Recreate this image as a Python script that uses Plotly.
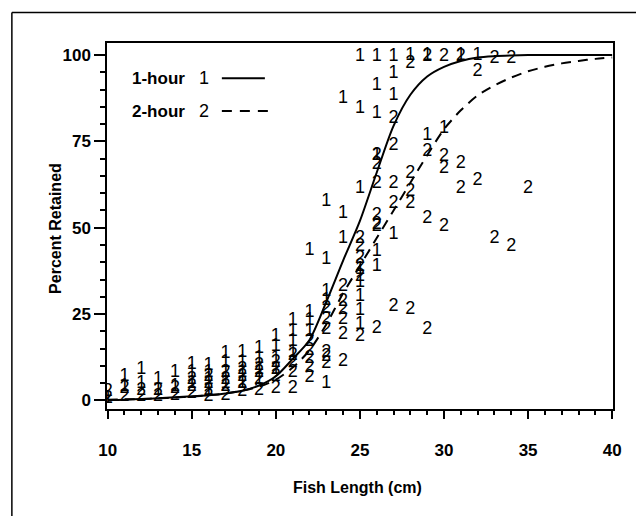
import plotly.graph_objects as go

# ---------------- data ----------------
# observed percent retained, 1-hour soak (plotted as "1")
len_1hr = [10, 11, 11, 12, 12, 13, 13, 14, 14,
           15, 15, 15, 16, 16, 16, 16, 17, 17, 17, 17,
           18, 18, 18, 18, 19, 19, 19, 19, 20, 20, 20, 20,
           21, 21, 21, 21, 22, 22, 22, 22,
           23, 23, 23, 23, 23, 24, 24, 24,
           25, 25, 25, 25, 25, 25, 25, 25,
           26, 26, 26, 26, 26, 26, 27, 27, 27, 27,
           28, 29, 29, 30, 31, 32]
pct_1hr = [0.5, 7, 4, 9, 5, 6, 3, 8, 4,
           10.5, 8, 5, 10, 8, 6, 3, 13.5, 11, 8, 5,
           14, 11, 8, 5, 15, 12, 9, 6, 18.5, 15.5, 12, 9,
           23, 20, 17, 14, 25.5, 23, 20, 43.5,
           31.5, 29, 57.5, 40.7, 5, 47, 54.2, 87.5,
           99.5, 84.6, 61.4, 38, 34, 30, 26, 22,
           99.5, 91.3, 83.1, 71, 43, 38.7, 99.5, 94.7, 88.4, 47.9,
           100, 100, 76.8, 78.8, 100, 100]

# observed percent retained, 2-hour soak (plotted as "2")
len_2hr = [10, 10, 11, 11, 12, 12, 13, 13, 14, 14,
           15, 15, 15, 16, 16, 16, 16, 17, 17, 17, 17,
           18, 18, 18, 18, 19, 19, 19, 19, 20, 20, 20, 20,
           21, 21, 21, 21, 22, 22, 22, 22, 22,
           23, 23, 23, 23, 23, 23, 24, 24, 24, 24, 24, 24,
           25, 25, 25, 25, 25, 25,
           26, 26, 26, 26, 26, 26, 26,
           27, 27, 27, 27, 27, 28, 28, 28, 28, 28,
           29, 29, 29, 29, 30, 30, 30, 30, 31, 31, 31,
           32, 32, 33, 33, 34, 34, 35]
pct_2hr = [2.5, 0.5, 3.5, 1, 3, 1, 3, 1, 3.5, 1.5,
           6, 4, 2, 7, 5, 3, 1, 8, 6, 4, 1.5,
           9, 7, 5, 2.5, 10, 8, 6, 3, 11, 9, 7, 3.5,
           13, 11, 8, 3.5, 17, 14.5, 12, 9.5, 6.5,
           26.5, 23.5, 20.5, 14, 12.7, 10.6, 33, 28.6, 26.4, 23.5, 19, 11.2,
           47, 44.5, 41.2, 38.7, 36, 18.5,
           62.9, 68.2, 71, 53.5, 50.3, 51, 20.9,
           81.7, 73.9, 62.9, 57, 27.1, 97.6, 65.8, 60.4, 57, 26.2,
           99.5, 72, 52.7, 20.4, 99.5, 70.6, 67.2, 50.3, 99.5, 68.6, 61.4,
           95.2, 63.8, 99, 47, 99, 44.5, 61.4]

# fitted retention curves
curve_len = [10, 11, 12, 13, 14, 15, 16, 17, 18, 19, 20, 21, 22, 23, 24, 25,
             26, 27, 28, 29, 30, 31, 32, 33, 34, 35, 36, 37, 38, 39, 40]
fit_1hr = [0.1, 0.2, 0.4, 0.6, 0.9, 1.2, 1.5, 2.0, 2.8, 4.3, 7.0, 12.0, 17.5, 28.5, 40.5, 52,
           66, 79.5, 88.5, 93.8, 96.6, 98.3, 99.3, 99.7, 99.9, 100, 100, 100, 100, 100, 100]
fit_2hr = [0.2, 0.3, 0.4, 0.6, 0.8, 1.1, 1.5, 2.0, 2.8, 4.0, 6.0, 9.5, 14.5, 22, 31, 39,
           47, 55, 63, 71, 78.5, 84, 88.3, 91.2, 93.5, 95.3, 96.6, 97.6, 98.3, 98.9, 99.3]

x_ticks = [10, 15, 20, 25, 30, 35, 40]
y_ticks = [0, 25, 50, 75, 100]
legend_labels = ["1-hour", "2-hour"]
legend_codes = ["1", "2"]

FONT = "Liberation Sans, Arial, sans-serif"

fig = go.Figure()

fig.add_trace(go.Scatter(x=curve_len, y=fit_1hr, mode="lines",
                         line=dict(color="black", width=2, shape="spline", smoothing=0.8),
                         hoverinfo="skip"))
fig.add_trace(go.Scatter(x=curve_len, y=fit_2hr, mode="lines",
                         line=dict(color="black", width=2, dash="10px,7px",
                                   shape="spline", smoothing=0.8),
                         hoverinfo="skip"))

fig.add_trace(go.Scatter(x=len_1hr, y=pct_1hr, mode="text",
                         text=[legend_codes[0]] * len(len_1hr),
                         textposition="middle center",
                         textfont=dict(family=FONT, size=18, color="black")))
fig.add_trace(go.Scatter(x=len_2hr, y=pct_2hr, mode="text",
                         text=[legend_codes[1]] * len(len_2hr),
                         textposition="middle center",
                         textfont=dict(family=FONT, size=18, color="black")))

# ---- in-plot legend (text + line samples) ----
rows_y = [0.904, 0.814]
for i, yy in enumerate(rows_y):
    fig.add_annotation(xref="paper", yref="paper", x=0.045, y=yy, text=legend_labels[i],
                       showarrow=False, xanchor="left", yanchor="middle",
                       font=dict(family=FONT, size=17, color="black", weight="bold"))
    fig.add_annotation(xref="paper", yref="paper", x=0.191, y=yy, text=legend_codes[i],
                       showarrow=False, xanchor="center", yanchor="middle",
                       font=dict(family=FONT, size=18, color="black"))
fig.add_shape(type="line", xref="paper", yref="paper", x0=0.227, x1=0.312,
              y0=rows_y[0], y1=rows_y[0], line=dict(color="black", width=2))
fig.add_shape(type="line", xref="paper", yref="paper", x0=0.227, x1=0.327,
              y0=rows_y[1], y1=rows_y[1], line=dict(color="black", width=2, dash="10px,8px"))

# ---- axis titles ----
fig.add_annotation(xref="paper", yref="paper", x=0.496, y=-0.215, text="Fish Length (cm)",
                   showarrow=False, xanchor="center", yanchor="middle",
                   font=dict(family=FONT, size=16, color="black", weight="bold"))
fig.add_annotation(xref="paper", yref="paper", x=-0.103, y=0.4945, text="Percent Retained",
                   showarrow=False, xanchor="center", yanchor="middle", textangle=-90,
                   font=dict(family=FONT, size=16, color="black", weight="bold"))

# ---- outer (scanned) frame: left and top edges ----
fig.add_shape(type="line", xref="paper", yref="paper", x0=-0.188, x1=-0.188,
              y0=1.083, y1=-0.32, line=dict(color="black", width=1.5))
fig.add_shape(type="line", xref="paper", yref="paper", x0=-0.188, x1=1.07,
              y0=1.083, y1=1.083, line=dict(color="black", width=1.5))

fig.update_layout(
    width=644, height=516,
    margin=dict(l=99, r=39, t=35, b=115),
    paper_bgcolor="white", plot_bgcolor="white",
    showlegend=False,
    xaxis=dict(range=[9.96, 40.05], tickvals=x_ticks, ticks="outside", ticklen=8,
               tickwidth=1.5, tickcolor="black", showline=True, linecolor="black",
               linewidth=1.5, mirror=True, showgrid=False, zeroline=False,
               ticklabelstandoff=17,
               tickfont=dict(family=FONT, size=17, color="black", weight="bold"),
               minor=dict(tick0=10, dtick=1, ticks="outside", ticklen=4, tickwidth=1.5,
                          tickcolor="black", showgrid=False)),
    yaxis=dict(range=[-2.5, 103.5], tickvals=y_ticks, ticks="outside", ticklen=11,
               tickwidth=1.5, tickcolor="black", showline=True, linecolor="black",
               linewidth=1.5, mirror=True, showgrid=False, zeroline=False,
               ticklabelstandoff=0,
               tickfont=dict(family=FONT, size=17, color="black", weight="bold"),
               minor=dict(tick0=0, dtick=5, ticks="outside", ticklen=5, tickwidth=1.5,
                          tickcolor="black", showgrid=False)),
)

fig.write_html("out.html")
